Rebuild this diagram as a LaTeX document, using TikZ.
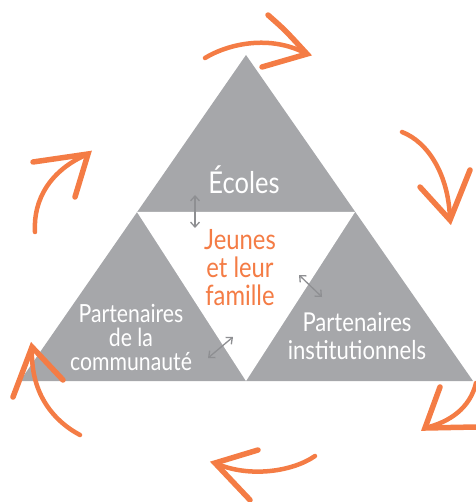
\documentclass[tikz,border=0pt]{standalone}
\usepackage{fontspec}
\newfontfamily\hand[FakeStretch=0.85]{Lato}
\usetikzlibrary{arrows.meta}
\definecolor{tri}{HTML}{A6A7AA}
\definecolor{org}{HTML}{F47C45}
\definecolor{dark}{HTML}{8E8F92}
\tikzset{
 shaft/.style={draw=org, line width=4.5pt, line cap=round, line join=round},
 barb/.style={draw=org, line width=5.5pt, line cap=round},
 link/.style={draw=dark, line width=1.3pt, {Straight Barb[length=5pt,width=9pt]}-{Straight Barb[length=5pt,width=9pt]}},
 wlabel/.style={text=white, align=center, inner sep=0pt, font=\hand\fontsize{26}{28}\selectfont},
 olabel/.style={text=org, align=center, inner sep=0pt, font=\hand\fontsize{28}{28}\selectfont},
}
\begin{document}
\begin{tikzpicture}[x=1pt,y=-1pt]
\useasboundingbox (0,0) rectangle (475,502);
% triangle
\coordinate (A) at (246,55);
\coordinate (BL) at (20,381);
\coordinate (BR) at (473,381);
\coordinate (IL) at (137,212);
\coordinate (IR) at (355,212);
\coordinate (IB) at (246,381);
\fill[tri] (A) -- (BR) -- (BL) -- cycle;
\fill[white] (IL) -- (IR) -- (IB) -- cycle;
% labels
\node[wlabel, font=\hand\fontsize{30}{30}\selectfont] (ecoles) at (244,180) {Écoles};
\node[olabel] (jeunes) at (240,268) {Jeunes\\et leur\\famille};
\node[wlabel, font=\hand\fontsize{25}{24}\selectfont] (comm) at (131,337) {Partenaires\\de la\\communauté};
\node[wlabel] (inst) at (357,336) {Partenaires\\institutionnels};
% grey double arrows
\coordinate (a1) at (195,195); \coordinate (a2) at (195,228);
\coordinate (b1) at (299,275); \coordinate (b2) at (322,297);
\coordinate (c1) at (208,358); \coordinate (c2) at (233,337);
\draw[link] (a1) -- (a2);
\draw[link] (b1) -- (b2);
\draw[link] (c1) -- (c2);
% orange arrows
% 1 top
\coordinate (s1) at (205,58); \coordinate (t1) at (307,54);
\coordinate (p1) at (268,15); \coordinate (q1) at (262,67);
\draw[shaft] (s1) .. controls (228,44) and (270,34) .. (t1);
\draw[barb] (p1) .. controls (285,30) .. (t1) -- (q1);
% 2 right upper
\coordinate (s2) at (402,132); \coordinate (t2) at (450,220);
\coordinate (p2) at (420,187); \coordinate (q2) at (470,170);
\draw[shaft] (s2) .. controls (428,142) and (449,175) .. (t2);
\draw[barb] (p2) -- (t2) -- (q2);
% 3 right lower
\coordinate (s3) at (476,383); \coordinate (t3) at (425,428);
\coordinate (p3) at (440,387); \coordinate (q3) at (476,427);
\draw[shaft] (s3) .. controls (470,408) and (450,422) .. (t3);
\draw[barb] (p3) -- (t3) -- (q3);
% 4 bottom
\coordinate (s4) at (315,456); \coordinate (t4) at (215,463);
\coordinate (p4) at (258,450); \coordinate (q4) at (250,500);
\draw[shaft] (s4) .. controls (292,472) and (248,478) .. (t4);
\draw[barb] (p4) -- (t4) -- (q4);
% 5 left lower
\coordinate (s5) at (80,435); \coordinate (t5) at (32,347);
\coordinate (p5) at (13,397); \coordinate (q5) at (63,380);
\draw[shaft] (s5) .. controls (52,420) and (30,392) .. (t5);
\draw[barb] (p5) -- (t5) -- (q5);
% 6 left upper
\coordinate (s6) at (35,232); \coordinate (t6) at (88,154);
\coordinate (p6) at (33,162); \coordinate (q6) at (75,197);
\draw[shaft] (s6) .. controls (33,200) and (50,170) .. (t6);
\draw[barb] (p6) -- (t6) -- (q6);
\end{tikzpicture}
\end{document}
